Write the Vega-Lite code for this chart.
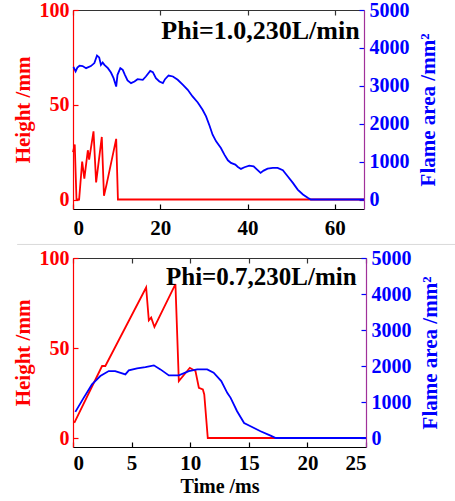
{
  "$schema": "https://vega.github.io/schema/vega-lite/v6.json",
  "padding": {"left": 12, "top": 0, "right": 0, "bottom": 0},
  "spacing": 3,
  "datasets": {
    "top_h": [
      {"t": 0, "v": 25}, {"t": 0.4, "v": 29}, {"t": 0.8, "v": 0}, {"t": 1.4, "v": 0}, {"t": 2.1, "v": 20}, {"t": 2.6, "v": 11}, {"t": 3.4, "v": 26}, {"t": 3.7, "v": 21}, {"t": 4.7, "v": 36}, {"t": 5.3, "v": 9}, {"t": 6.6, "v": 33}, {"t": 7.1, "v": 2}, {"t": 7.7, "v": 8}, {"t": 9.9, "v": 32}, {"t": 10.3, "v": 0}, {"t": 66.7, "v": 0}
    ],
    "top_a": [
      {"t": 0.1, "v": 3500}, {"t": 0.6, "v": 3380}, {"t": 1.0, "v": 3480}, {"t": 1.5, "v": 3530}, {"t": 2.2, "v": 3520}, {"t": 3.0, "v": 3465}, {"t": 4.1, "v": 3520}, {"t": 4.9, "v": 3600}, {"t": 5.5, "v": 3800}, {"t": 6.0, "v": 3750}, {"t": 6.4, "v": 3550}, {"t": 6.8, "v": 3614}, {"t": 7.2, "v": 3553}, {"t": 8.0, "v": 3465}, {"t": 8.7, "v": 3350}, {"t": 9.3, "v": 3202}, {"t": 9.9, "v": 2980}, {"t": 10.2, "v": 3289}, {"t": 10.85, "v": 3465}, {"t": 11.4, "v": 3421}, {"t": 11.9, "v": 3289}, {"t": 12.5, "v": 3140}, {"t": 13.3, "v": 3070}, {"t": 14.1, "v": 3114}, {"t": 14.8, "v": 3175}, {"t": 16.0, "v": 3158}, {"t": 16.7, "v": 3246}, {"t": 17.7, "v": 3395}, {"t": 18.3, "v": 3360}, {"t": 19.0, "v": 3202}, {"t": 19.8, "v": 3114}, {"t": 20.6, "v": 3070}, {"t": 21.1, "v": 3175}, {"t": 21.9, "v": 3272}, {"t": 22.9, "v": 3246}, {"t": 24.0, "v": 3158}, {"t": 25.2, "v": 3026}, {"t": 26.3, "v": 2895}, {"t": 27.4, "v": 2719}, {"t": 28.6, "v": 2561}, {"t": 29.7, "v": 2368}, {"t": 30.5, "v": 2193}, {"t": 31.3, "v": 1947}, {"t": 32.0, "v": 1711}, {"t": 32.8, "v": 1535}, {"t": 33.9, "v": 1360}, {"t": 34.7, "v": 1184}, {"t": 35.5, "v": 1035}, {"t": 36.2, "v": 965}, {"t": 37.2, "v": 921}, {"t": 37.8, "v": 860}, {"t": 38.5, "v": 807}, {"t": 39.3, "v": 851}, {"t": 40.4, "v": 895}, {"t": 41.4, "v": 877}, {"t": 42.2, "v": 789}, {"t": 43.0, "v": 702}, {"t": 43.7, "v": 763}, {"t": 44.6, "v": 816}, {"t": 45.8, "v": 833}, {"t": 46.9, "v": 833}, {"t": 48.1, "v": 772}, {"t": 49.2, "v": 614}, {"t": 50.4, "v": 439}, {"t": 51.5, "v": 263}, {"t": 52.7, "v": 132}, {"t": 53.8, "v": 45}, {"t": 54.5, "v": 0}, {"t": 66.7, "v": 0}
    ],
    "bot_h": [
      {"t": 0.11, "v": 8.4}, {"t": 2.48, "v": 40}, {"t": 2.76, "v": 40}, {"t": 6.24, "v": 83.6}, {"t": 6.47, "v": 65.4}, {"t": 6.67, "v": 66.9}, {"t": 6.95, "v": 61.7}, {"t": 8.74, "v": 85.5}, {"t": 9.03, "v": 31.6}, {"t": 9.97, "v": 39}, {"t": 10.45, "v": 37.2}, {"t": 10.74, "v": 27.9}, {"t": 11.08, "v": 27}, {"t": 11.2, "v": 24.2}, {"t": 11.5, "v": 0}, {"t": 17.3, "v": 0}
    ],
    "bot_a": [
      {"t": 0.2, "v": 725}, {"t": 0.91, "v": 1115}, {"t": 1.62, "v": 1488}, {"t": 2.33, "v": 1720}, {"t": 3.05, "v": 1859}, {"t": 3.6, "v": 1859}, {"t": 4.47, "v": 1766}, {"t": 4.76, "v": 1878}, {"t": 5.47, "v": 1934}, {"t": 6.18, "v": 1971}, {"t": 6.9, "v": 2018}, {"t": 7.46, "v": 1906}, {"t": 8.18, "v": 1739}, {"t": 9.03, "v": 1739}, {"t": 9.88, "v": 1859}, {"t": 10.6, "v": 1906}, {"t": 11.45, "v": 1906}, {"t": 12.0, "v": 1812}, {"t": 12.65, "v": 1580}, {"t": 13.16, "v": 1254}, {"t": 13.45, "v": 1115}, {"t": 14.0, "v": 744}, {"t": 14.6, "v": 418}, {"t": 15.15, "v": 326}, {"t": 16.0, "v": 187}, {"t": 16.86, "v": 67}, {"t": 17.3, "v": 0}, {"t": 25, "v": 0}
    ]
  },
  "vconcat": [
    {
      "width": 291,
      "height": 199,
      "layer": [
        {
          "layer": [
            {
              "data": {"name": "top_h"},
              "mark": {"type": "line", "color": "#ff0000", "strokeWidth": 1.8},
              "encoding": {
                "x": {"field": "t", "type": "quantitative", "scale": {"domain": [0, 66.7], "nice": false, "zero": false},
                  "axis": {"orient": "bottom", "values": [0, 20, 40, 60], "title": null, "labelColor": "black", "domainColor": "black", "tickColor": "black", "tickSize": -5, "labelPadding": 13, "labelFontSize": 21}},
                "y": {"field": "v", "type": "quantitative", "scale": {"domain": [-5, 100], "nice": false, "zero": false},
                  "axis": {"orient": "left", "values": [0, 50, 100], "title": "Height /mm", "titleColor": "#ff0000", "labelColor": "#ff0000", "domainColor": "#ff0000", "tickColor": "#ff0000", "tickSize": -5, "labelPadding": 9, "labelFontSize": 20, "titleFontSize": 21, "titlePadding": 6}}
              }
            },
            {
              "data": {"values": [{}]},
              "mark": {"type": "text", "align": "right", "baseline": "middle", "fontSize": 26, "fontWeight": "bold", "font": "Liberation Serif", "color": "black"},
              "encoding": {
                "x": {"datum": 65.7, "type": "quantitative"},
                "y": {"datum": 89, "type": "quantitative"},
                "text": {"value": "Phi=1.0,230L/min"}
              }
            },
            {
              "data": {"values": [{}]},
              "mark": {"type": "rule", "color": "#d9d9d9", "strokeWidth": 1},
              "encoding": {
                "x": {"datum": -12.8, "type": "quantitative"},
                "x2": {"datum": 87.8},
                "y": {"datum": -23.7, "type": "quantitative"}
              }
            }
          ]
        },
        {
          "data": {"name": "top_a"},
          "mark": {"type": "line", "color": "#0000ff", "strokeWidth": 1.8},
          "encoding": {
            "x": {"field": "t", "type": "quantitative",
              "axis": {"orient": "top", "values": [0, 20, 40, 60], "labels": false, "title": null, "domainColor": "#333333", "tickColor": "#333333", "tickSize": -5}},
            "y": {"field": "v", "type": "quantitative", "scale": {"domain": [-250, 5000], "nice": false, "zero": false},
              "axis": {"orient": "right", "values": [0, 1000, 2000, 3000, 4000, 5000], "format": "d", "title": "Flame area /mm²", "titleAngle": 270, "titleBaseline": "top", "titleColor": "#0000ff", "labelColor": "#0000ff", "domainColor": "#a0309a", "tickColor": "#0000ff", "tickSize": -5, "labelPadding": 10, "labelFontSize": 20, "titleFontSize": 21, "titlePadding": 8}}
          }
        }
      ],
      "resolve": {"scale": {"y": "independent"}, "axis": {"x": "independent", "y": "independent"}}
    },
    {
      "width": 293,
      "height": 189,
      "layer": [
        {
          "layer": [
            {
              "data": {"name": "bot_h"},
              "mark": {"type": "line", "color": "#ff0000", "strokeWidth": 1.8},
              "encoding": {
                "x": {"field": "t", "type": "quantitative", "scale": {"domain": [0, 25], "nice": false, "zero": false},
                  "axis": {"orient": "bottom", "values": [0, 5, 10, 15, 20, 25], "title": "Time /ms", "titleColor": "black", "titleFontSize": 20, "titlePadding": 3, "labelColor": "black", "domainColor": "black", "tickColor": "black", "tickSize": -5, "labelPadding": 10, "labelFontSize": 21}},
                "y": {"field": "v", "type": "quantitative", "scale": {"domain": [-5, 100], "nice": false, "zero": false},
                  "axis": {"orient": "left", "values": [0, 50, 100], "title": "Height /mm", "titleColor": "#ff0000", "labelColor": "#ff0000", "domainColor": "#ff0000", "tickColor": "#ff0000", "tickSize": -5, "labelPadding": 9, "labelFontSize": 20, "titleFontSize": 21, "titlePadding": 6}}
              }
            },
            {
              "data": {"values": [{}]},
              "mark": {"type": "text", "align": "right", "baseline": "middle", "fontSize": 25, "fontWeight": "bold", "font": "Liberation Serif", "color": "black"},
              "encoding": {
                "x": {"datum": 24.2, "type": "quantitative"},
                "y": {"datum": 89.6, "type": "quantitative"},
                "text": {"value": "Phi=0.7,230L/min"}
              }
            }
          ]
        },
        {
          "data": {"name": "bot_a"},
          "mark": {"type": "line", "color": "#0000ff", "strokeWidth": 1.8},
          "encoding": {
            "x": {"field": "t", "type": "quantitative",
              "axis": {"orient": "top", "values": [0, 5, 10, 15, 20, 25], "labels": false, "title": null, "domainColor": "#333333", "tickColor": "#333333", "tickSize": -5}},
            "y": {"field": "v", "type": "quantitative", "scale": {"domain": [-250, 5000], "nice": false, "zero": false},
              "axis": {"orient": "right", "values": [0, 1000, 2000, 3000, 4000, 5000], "format": "d", "title": "Flame area /mm²", "titleAngle": 270, "titleBaseline": "top", "titleColor": "#0000ff", "labelColor": "#0000ff", "domainColor": "#a0309a", "tickColor": "#0000ff", "tickSize": -5, "labelPadding": 10, "labelFontSize": 20, "titleFontSize": 21, "titlePadding": 8}}
          }
        }
      ],
      "resolve": {"scale": {"y": "independent"}, "axis": {"x": "independent", "y": "independent"}}
    }
  ],
  "config": {
    "view": {"stroke": null},
    "font": "Liberation Serif",
    "axis": {"grid": false, "labelFont": "Liberation Serif", "labelFontWeight": "bold", "titleFont": "Liberation Serif", "titleFontWeight": "bold", "domainWidth": 1.2, "tickWidth": 1.2}
  }
}
